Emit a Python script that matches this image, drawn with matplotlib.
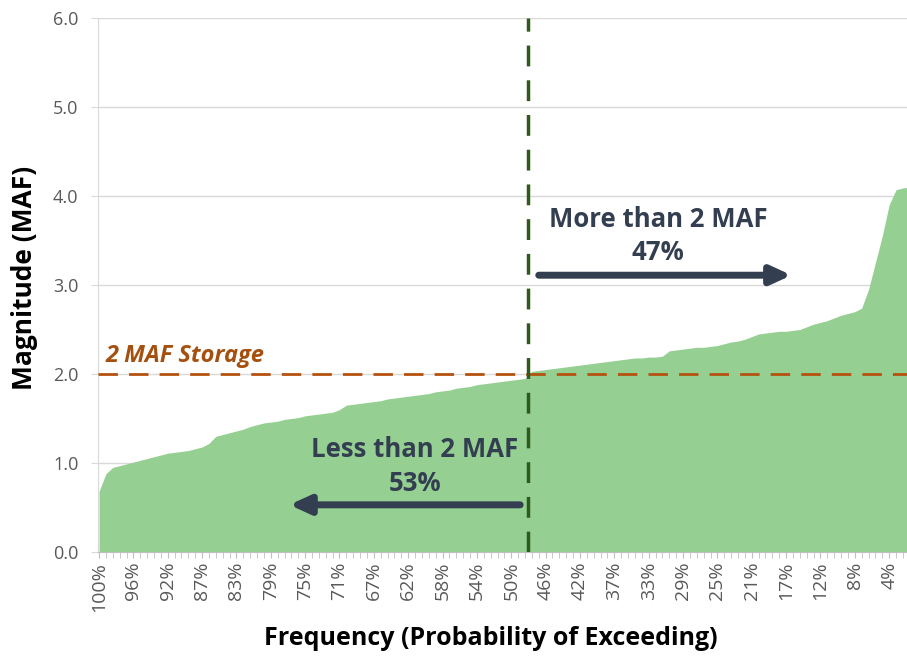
import numpy as np
from matplotlib import pyplot as plt

# sorted annual magnitudes (MAF), one per rank, 120 ranks
magnitude = [
    0.68, 0.88, 0.95, 0.97, 0.99, 1.01, 1.03, 1.05, 1.07, 1.09,
    1.11, 1.12, 1.13, 1.14, 1.16, 1.18, 1.22, 1.30, 1.32, 1.34,
    1.36, 1.38, 1.41, 1.43, 1.45, 1.46, 1.47, 1.49, 1.50, 1.51,
    1.53, 1.54, 1.55, 1.56, 1.57, 1.60, 1.65, 1.66, 1.67, 1.68,
    1.69, 1.70, 1.72, 1.73, 1.74, 1.75, 1.76, 1.77, 1.78, 1.80,
    1.81, 1.82, 1.84, 1.85, 1.86, 1.88, 1.89, 1.90, 1.91, 1.92,
    1.93, 1.94, 1.95, 2.03, 2.04, 2.05, 2.06, 2.07, 2.08, 2.09,
    2.10, 2.11, 2.12, 2.13, 2.14, 2.15, 2.16, 2.17, 2.18, 2.18,
    2.19, 2.19, 2.20, 2.26, 2.27, 2.28, 2.29, 2.30, 2.30, 2.31,
    2.32, 2.34, 2.36, 2.37, 2.39, 2.42, 2.45, 2.46, 2.47, 2.48,
    2.48, 2.49, 2.50, 2.53, 2.56, 2.58, 2.60, 2.63, 2.66, 2.68,
    2.70, 2.74, 2.95, 3.25, 3.55, 3.90, 4.07, 4.09, 4.10, 4.20,
]

tick_labels = ['100%', '96%', '92%', '87%', '83%', '79%', '75%', '71%', '67%',
               '62%', '58%', '54%', '50%', '46%', '42%', '37%', '33%', '29%',
               '25%', '21%', '17%', '12%', '8%', '4%']

storage = 2.0
split_rank = 62.5
less_pct = '53%'
more_pct = '47%'

plt.rcParams['font.family'] = ['Open Sans', 'DejaVu Sans']

x = np.arange(len(magnitude))

fig = plt.figure(figsize=(9.07, 6.6), dpi=100)
ax = fig.add_axes([98 / 907, 1 - 552 / 660, 1 - 98 / 907, (552 - 18) / 660])

ax.fill_between(x, magnitude, 0, color='#95cf92', lw=0, zorder=2)

# reference lines
ax.axhline(storage, color='#b5520f', ls=(0, (7, 4)), lw=2, zorder=3)
ax.axvline(split_rank, color='#2e5a1c', ls=(0, (6, 4)), lw=2.5, zorder=3)

ax.text(1, storage + 0.13, '2 MAF Storage', color='#a5500f', fontsize=17,
        fontweight='bold', style='italic', ha='left', va='baseline', zorder=4)

navy = '#333f50'
ax.text(46.0, 0.96, 'Less than 2 MAF\n' + less_pct, color=navy, fontsize=18.5,
        fontweight='bold', ha='center', va='center', linespacing=1.3, zorder=4)
ax.text(81.4, 3.55, 'More than 2 MAF\n' + more_pct, color=navy, fontsize=18.5,
        fontweight='bold', ha='center', va='center', linespacing=1.3, zorder=4)

arrow = dict(arrowstyle='-|>,head_length=1.2,head_width=0.55',
             color=navy, lw=5, shrinkA=0, shrinkB=0)
ax.annotate('', xy=(27.7, 0.53), xytext=(61.3, 0.53), arrowprops=arrow, zorder=4)
ax.annotate('', xy=(100.8, 3.11), xytext=(64.0, 3.11), arrowprops=arrow, zorder=4)

ax.set_yticks(np.arange(0, 6.01, 1.0))
ax.set_yticklabels([f'{v:.1f}' for v in np.arange(0, 6.01, 1.0)])
ax.set_xticks(np.arange(0, len(tick_labels) * 5, 5))
ax.set_xticklabels(tick_labels, rotation=90)
ax.set_xticks(x, minor=True)
ax.set_xlim(-0.15, 117.6)
ax.set_ylim(0, 6)

ax.grid(axis='y', color='#d9d9d9', lw=1, zorder=0)
ax.set_axisbelow(True)
for side in ['top', 'right']:
    ax.spines[side].set_visible(False)
ax.spines['left'].set_color('#d9d9d9')
ax.spines['bottom'].set_color('#bfbfbf')
ax.tick_params(axis='y', length=5, color='#d9d9d9', labelsize=13,
               labelcolor='#595959', pad=9)
ax.tick_params(axis='x', which='both', length=4, color='#bfbfbf',
               labelsize=14, labelcolor='#595959', pad=3)

ax.set_ylabel('Magnitude (MAF)', fontsize=19, fontweight='bold')
ax.set_xlabel('Frequency (Probability of Exceeding)', fontsize=18,
              fontweight='bold')
ax.xaxis.set_label_coords(0.486, -0.138)
ax.yaxis.set_label_coords(-0.074, 0.513)

fig.savefig('out.png', dpi=100)
